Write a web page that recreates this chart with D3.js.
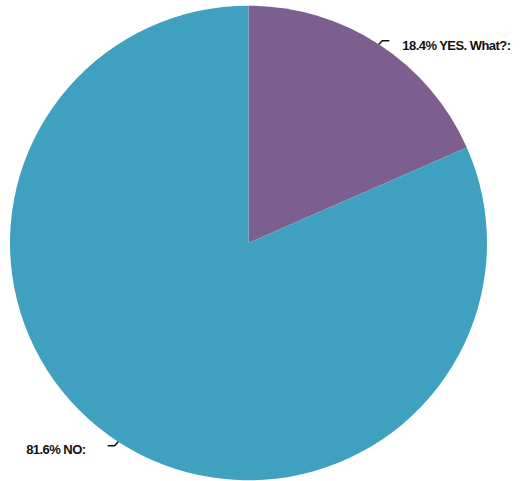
<!DOCTYPE html>
<html>
<head>
<meta charset="utf-8">
<script src="https://cdn.jsdelivr.net/npm/d3@7"></script>
<style>
  html, body { margin: 0; padding: 0; background: #fff; }
  svg { display: block; }
  .lbl { font-family: "Liberation Sans", Arial, sans-serif; font-weight: bold; font-size: 13px; fill: #111; letter-spacing: -0.55px; }
</style>
</head>
<body>
<svg id="chart" width="526" height="481"></svg>
<script>
// Survey answers and their shares (percent)
const answers = ["YES. What?:", "NO:"];
const shares = [18.4, 81.6];
const sliceColors = ["#7C5F8E", "#40A0C0"];

const svg = d3.select("#chart");
const cx = 248.5, cy = 243, r = 238.5;

const pie = d3.pie().sort(null).value(d => d.value);
const arcs = pie(answers.map((a, i) => ({ name: a, value: shares[i], color: sliceColors[i] })));
const arc = d3.arc().innerRadius(0).outerRadius(r);

const g = svg.append("g").attr("transform", `translate(${cx},${cy}) scale(1,0.995)`);

g.selectAll("path.slice")
  .data(arcs)
  .enter().append("path")
  .attr("class", "slice")
  .attr("d", arc)
  .attr("fill", d => d.data.color);

// Short bent leader lines from the rim at each slice's mid-angle, then the labels
arcs.forEach(d => {
  const mid = (d.startAngle + d.endAngle) / 2;
  const x0 = cx + Math.sin(mid) * r;
  const y0 = cy - Math.cos(mid) * r * 0.995;
  const right = Math.sin(mid) >= 0;
  const dir = right ? 1 : -1;
  const dy = right ? -3.5 : 4;
  const pts = [[x0, y0], [x0 + dir * 3.5, y0 + dy], [x0 + dir * 10.5, y0 + dy]];
  svg.append("path")
    .attr("d", d3.line()(pts))
    .attr("fill", "none")
    .attr("stroke", "#111")
    .attr("stroke-width", 1.6);
  svg.append("text")
    .attr("class", "lbl")
    .attr("x", right ? x0 + 23.5 : x0 - 92)
    .attr("y", y0 + (right ? 5.5 : 12))
    .attr("text-anchor", "start")
    .text(`${d.data.value.toFixed(1)}% ${d.data.name}`);
});
</script>
</body>
</html>
